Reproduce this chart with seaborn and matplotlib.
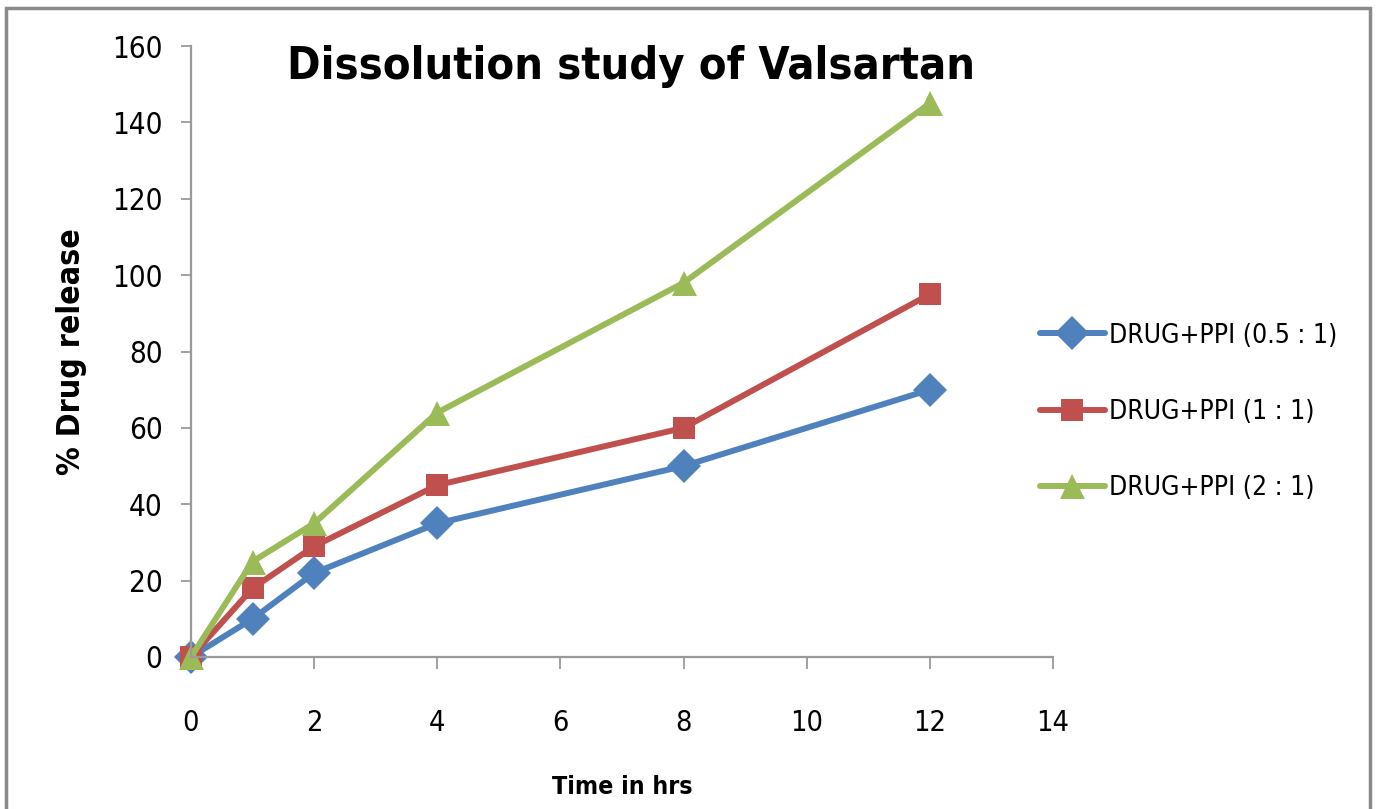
import matplotlib
matplotlib.use("Agg")
import matplotlib.pyplot as plt
import seaborn as sns
import pandas as pd
from matplotlib.patches import Rectangle
from matplotlib.lines import Line2D
from matplotlib import font_manager

time_hrs = [0, 1, 2, 4, 8, 12]
series_names = ["DRUG+PPI (0.5 : 1)", "DRUG+PPI (1 : 1)", "DRUG+PPI (2 : 1)"]
release_05 = [0, 10, 22, 35, 50, 70]
release_1 = [0, 18, 29, 45, 60, 95]
release_2 = [0, 25, 35, 64, 98, 145]
x_ticks = [0, 2, 4, 6, 8, 10, 12, 14]
y_ticks = [0, 20, 40, 60, 80, 100, 120, 140, 160]

colors = ["#4F81BD", "#C0504D", "#9BBB59"]
markers = ["D", "s", "^"]
msizes = [17, 16, 18]

sns.set_theme(style="white")
# look for a condensed/narrow face
narrow = None
for f in font_manager.fontManager.ttflist:
    fn = f.fname.lower()
    if ("narrow" in fn or "condensed" in fn) and f.weight in (400, "normal", "regular", "book"):
        narrow = f
        break
stretch = "normal"
fam = "DejaVu Sans"
k = 1.0
if narrow is not None:
    fam = narrow.name
    stretch = narrow.stretch
    k = 1.15
plt.rcParams["font.family"] = [fam, "DejaVu Sans"]
plt.rcParams["font.stretch"] = stretch
plt.rcParams["text.color"] = "black"
plt.rcParams["axes.labelcolor"] = "black"

rows = []
for name, vals in zip(series_names, [release_05, release_1, release_2]):
    for t, v in zip(time_hrs, vals):
        rows.append({"time": t, "release": v, "series": name})
df = pd.DataFrame(rows)

fig = plt.figure(figsize=(13.76, 8.09), dpi=100)
ax = fig.add_axes([0.1388, 0.1879, 0.6265, 0.7552])

sns.lineplot(data=df, x="time", y="release", hue="series", style="series",
             hue_order=series_names, style_order=series_names,
             palette=dict(zip(series_names, colors)),
             markers=dict(zip(series_names, markers)), dashes=False,
             linewidth=4.3, markeredgewidth=0, ax=ax, legend=False)

for line, ms in zip(ax.get_lines(), msizes):
    line.set_markersize(ms)
    line.set_clip_on(False)

axis_gray = "#9a9a9a"
ax.set_xlim(0, 14)
ax.set_ylim(0, 160)
ax.set_xticks(x_ticks)
ax.set_yticks(y_ticks)
ax.tick_params(axis="both", labelcolor="black", color=axis_gray, width=1.3,
               direction="out", left=True, bottom=True)
ax.tick_params(axis="x", labelsize=18 * k, length=8.6, pad=29)
ax.tick_params(axis="y", labelsize=18.5 * k, length=7.5, pad=13)
for s in ["top", "right"]:
    ax.spines[s].set_visible(False)
for s in ["left", "bottom"]:
    ax.spines[s].set_color(axis_gray)
    ax.spines[s].set_linewidth(1.6)

ax.set_xlabel("Time in hrs", fontsize=15.5 * k, fontweight="bold", labelpad=27)
ax.set_ylabel("% Drug release", fontsize=20 * k, fontweight="bold", labelpad=18)

fig.text(0.4586, 0.918, "Dissolution study of Valsartan", fontsize=28.2 * k,
         fontweight="bold", ha="center", va="center")

handles = [Line2D([], [], color=c, marker=m, markersize=ms, linewidth=4.3,
                  markeredgewidth=0) for c, m, ms in zip(colors, markers, msizes)]
fig.legend(handles, series_names, loc="center left", bbox_to_anchor=(0.7558, 0.491),
           frameon=False, fontsize=16.5 * k, handlelength=2.45, handletextpad=0.15,
           labelspacing=1.9, borderpad=0, borderaxespad=0)

fig.add_artist(Rectangle((6 / 1376, -0.02), (1370 - 6) / 1376, 1.02 - 8 / 809,
                         transform=fig.transFigure, fill=False,
                         edgecolor="#8a8a8a", linewidth=2.5))

fig.savefig("out.png", dpi=100)
